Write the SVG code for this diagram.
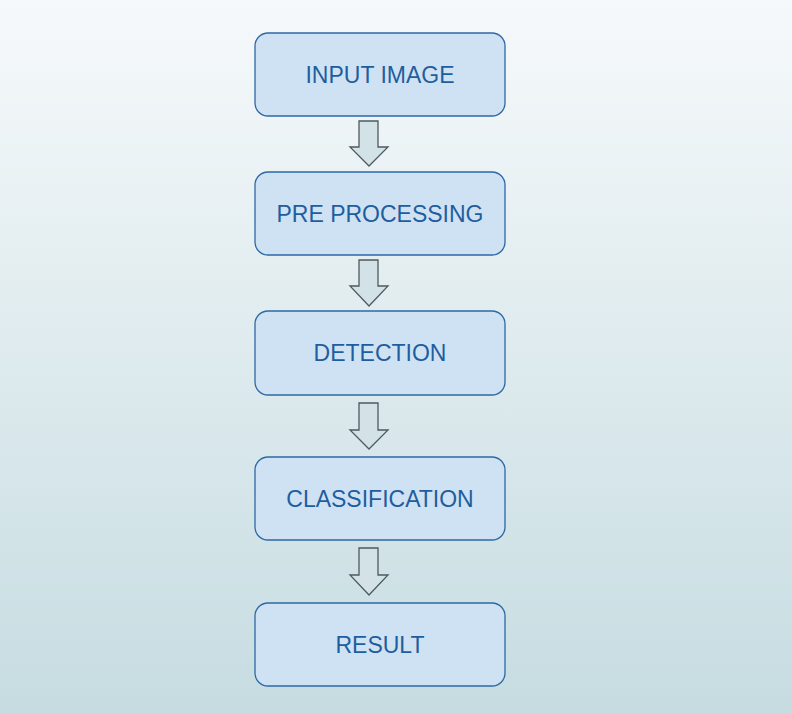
<svg xmlns="http://www.w3.org/2000/svg" width="792" height="714" viewBox="0 0 792 714">
<defs>
<linearGradient id="bg" x1="0" y1="0" x2="0" y2="1">
<stop offset="0" stop-color="#f6f9fb"/>
<stop offset="1" stop-color="#c6dce1"/>
</linearGradient>
<style>
.box{fill:#cfe2f3;stroke:#2c68a6;stroke-width:1.3}
.lbl{font-family:"Liberation Sans",Arial,sans-serif;font-size:23px;fill:#1f5e9e;text-anchor:middle}
.arr{fill:#d2e2e7;stroke:#4d5a60;stroke-width:1.3;stroke-linejoin:miter}
</style>
</defs>
<rect width="792" height="714" fill="url(#bg)"/>
<g id="connectors">
<polygon class="arr" points="359,121 378,121 378,147 388,147 369,166 350,147 359,147"/>
<polygon class="arr" points="359,260 378,260 378,286 388,286 369,306 350,286 359,286"/>
<polygon class="arr" points="359,403 378,403 378,430 388,430 369,449 350,430 359,430"/>
<polygon class="arr" points="359,548 378,548 378,575 388,575 369,595 350,575 359,575"/>
</g>
<g id="input">
<rect class="box" x="255" y="33" width="250" height="83" rx="13"/>
<text class="lbl" x="380" y="83">INPUT IMAGE</text>
</g>
<g id="preprocessing">
<rect class="box" x="255" y="172" width="250" height="83" rx="13"/>
<text class="lbl" x="380" y="222">PRE PROCESSING</text>
</g>
<g id="detection">
<rect class="box" x="255" y="311" width="250" height="84" rx="13"/>
<text class="lbl" x="380" y="361">DETECTION</text>
</g>
<g id="classification">
<rect class="box" x="255" y="457" width="250" height="83" rx="13"/>
<text class="lbl" x="380" y="507">CLASSIFICATION</text>
</g>
<g id="result">
<rect class="box" x="255" y="603" width="250" height="83" rx="13"/>
<text class="lbl" x="380" y="653">RESULT</text>
</g>
</svg>
